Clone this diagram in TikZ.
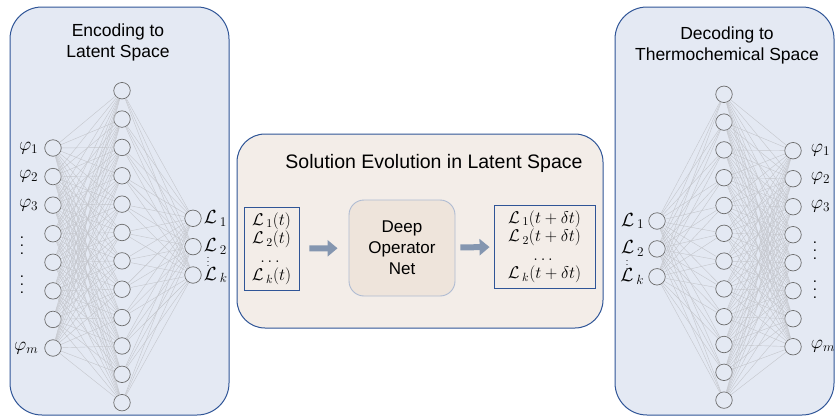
\documentclass[tikz,border=0pt]{standalone}
\usepackage{fix-cm}
\usepackage{amsmath, amssymb}
\usepackage{fontspec}
\setmainfont{Liberation Sans}
\usetikzlibrary{arrows.meta}

\definecolor{panelblue}{HTML}{E4E9F3}
\definecolor{panelbeige}{HTML}{F3EDE8}
\definecolor{donbeige}{HTML}{EEE4DB}
\definecolor{donframe}{HTML}{AEBBD2}
\definecolor{frameblue}{HTML}{2F5597}
\definecolor{arrowblue}{HTML}{8496B0}
\definecolor{wiregray}{HTML}{C4C6CC}

% tall dotted column beside the phi labels
\newcommand{\tallvdots}{\vbox{\baselineskip=8pt \lineskiplimit=0pt \hbox{.}\hbox{.}\hbox{.}}}
\newcommand{\lat}[1]{\mathcal{L}_{\:#1}}

\tikzset{
  panel/.style={draw=frameblue, line width=1pt, rounded corners=32pt},
  neuron/.style={circle, draw=gray!85!black, line width=0.7pt, minimum size=16.5pt, inner sep=0pt},
  wire/.style={draw=wiregray, line width=0.4pt},
  sidetitle/.style={align=center, font=\fontsize{17.5}{21}\selectfont},
  mathlabel/.style={inner sep=0pt, font=\fontsize{19}{21}\selectfont},
  dotcolumn/.style={inner sep=0pt, font=\fontsize{15}{16}\selectfont},
  listbox/.style={draw=frameblue, line width=0.9pt, fill=panelbeige, align=center, inner sep=0pt, font=\fontsize{17}{18.5}\selectfont},
  blockarrow/.style={arrowblue, line width=6pt, -{Triangle[length=10pt, width=16pt]}}
}

\begin{document}
\begin{tikzpicture}[x=1pt, y=-1pt]
\useasboundingbox (0,0) rectangle (837,418);

% panels
\draw[panel, fill=panelblue] (10,7) rectangle (229,415);
\draw[panel, fill=panelbeige, rounded corners=28pt] (237,134) rectangle (603,328);
\draw[panel, fill=panelblue] (615,7) rectangle (834,415);

\path (118,42.5) node[sidetitle] (enctitle) {Encoding to\\Latent Space};
\path (727,45) node[sidetitle] (dectitle) {Decoding to\\Thermochemical Space};
\path (434,163) node[font=\fontsize{19.5}{23}\selectfont] (evotitle) {Solution Evolution in Latent Space};

% encoder
\foreach \i in {1,...,8}
  \path (53,{148+(\i-1)*28.57}) node[neuron, fill=panelblue] (in\i) {};
\foreach \j in {1,...,12}
  \path (122,{90.7+(\j-1)*28.36}) node[neuron, fill=panelblue] (eh\j) {};
\foreach \k in {1,2,3}
  \path (193,{218.3+(\k-1)*28.35}) node[neuron, fill=panelblue] (el\k) {};
\foreach \i in {1,...,8}
  \foreach \j in {1,...,12}
    \draw[wire] (in\i) -- (eh\j);
\foreach \j in {1,...,12}
  \foreach \k in {1,2,3}
    \draw[wire] (eh\j) -- (el\k);

\path (in1.west) ++(-6,0) node[mathlabel, anchor=east] (lphi1) {$\varphi_1$};
\path (in2.west) ++(-6,0) node[mathlabel, anchor=east] (lphi2) {$\varphi_2$};
\path (in3.west) ++(-6,0) node[mathlabel, anchor=east] (lphi3) {$\varphi_3$};
\path (22,246) node[dotcolumn] (ldots1) {\tallvdots};
\path (22,285) node[dotcolumn] (ldots2) {\tallvdots};
\path (in8.west) ++(-6,0) node[mathlabel, anchor=east] (lphim) {$\varphi_m$};

\path (el1.east) ++(2,0) node[mathlabel, anchor=west] (llat1) {$\lat{1}$};
\path (el2.east) ++(2,0) node[mathlabel, anchor=west] (llat2) {$\lat{2}$};
\path (el3.east) ++(2,0) node[mathlabel, anchor=west] (llatk) {$\lat{k}$};
\path (208,259) node[inner sep=0pt, font=\fontsize{9}{9}\selectfont] (llatdots) {$\vdots$};

% latent evolution
\path (271.5,248.5) node[listbox, minimum width=55pt, minimum height=83pt] (inbox)
  {$\lat{1}(t)$\\$\lat{2}(t)$\\$\dots$\\$\lat{k}(t)$};
\path (402,248) node[draw=donframe, line width=0.9pt, fill=donbeige, rounded corners=15pt,
  minimum width=106pt, minimum height=96pt, align=center,
  font=\fontsize{17}{21}\selectfont] (don) {Deep\\Operator\\Net};
\path (544.5,246.5) node[listbox, minimum width=101pt, minimum height=83pt] (outbox)
  {$\lat{1}(t+\delta t)$\\$\lat{2}(t+\delta t)$\\$\dots$\\$\lat{k}(t+\delta t)$};
\draw[blockarrow, shorten <=10pt, shorten >=11pt] (inbox) -- (don);
\draw[blockarrow, shorten <=5pt, shorten >=4pt] (don) -- (outbox);

% decoder
\foreach \k in {1,2,3}
  \path (657,{221+(\k-1)*27.9}) node[neuron, fill=panelblue] (dl\k) {};
\foreach \j in {1,...,12}
  \path (724,{94.3+(\j-1)*27.8}) node[neuron, fill=panelblue] (dh\j) {};
\foreach \i in {1,...,8}
  \path (793,{150.7+(\i-1)*28}) node[neuron, fill=panelblue] (out\i) {};
\foreach \k in {1,2,3}
  \foreach \j in {1,...,12}
    \draw[wire] (dl\k) -- (dh\j);
\foreach \j in {1,...,12}
  \foreach \i in {1,...,8}
    \draw[wire] (dh\j) -- (out\i);

\path (dl1.west) ++(-4,0) node[mathlabel, anchor=east] (rlat1) {$\lat{1}$};
\path (dl2.west) ++(-4,0) node[mathlabel, anchor=east] (rlat2) {$\lat{2}$};
\path (dl3.west) ++(-4,0) node[mathlabel, anchor=east] (rlatk) {$\lat{k}$};
\path (627,262) node[inner sep=0pt, font=\fontsize{9}{9}\selectfont] (rlatdots) {$\vdots$};

\path (out1.east) ++(9,0) node[mathlabel, anchor=west] (rphi1) {$\varphi_1$};
\path (out2.east) ++(9,0) node[mathlabel, anchor=west] (rphi2) {$\varphi_2$};
\path (out3.east) ++(9,0) node[mathlabel, anchor=west] (rphi3) {$\varphi_3$};
\path (815,251) node[dotcolumn] (rdots1) {\tallvdots};
\path (815,290) node[dotcolumn] (rdots2) {\tallvdots};
\path (out8.east) ++(9,0) node[mathlabel, anchor=west] (rphim) {$\varphi_m$};
\end{tikzpicture}
\end{document}
